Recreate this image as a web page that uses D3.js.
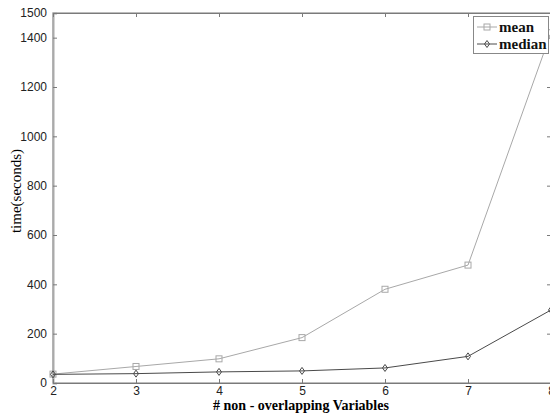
<!DOCTYPE html>
<html><head><meta charset="utf-8">
<script src="https://cdn.jsdelivr.net/npm/d3@7"></script>
<style>body{margin:0;background:#fff}svg{display:block}</style>
</head><body>
<script>
const xValues = [2, 3, 4, 5, 6, 7, 8];
const meanValues = [36, 67, 98, 184, 380, 478, 1420];
const medianValues = [35, 38, 45, 49, 61, 108, 296];
const yTicks = [0, 200, 400, 600, 800, 1000, 1200, 1400, 1500];
const seriesNames = ["mean", "median"];

(function () {
const W = 550, H = 415;
const m = {l: 53, r: -1, t: 13, b: 32};
const svg = d3.select("body").append("svg").attr("width", W).attr("height", H);
const x = d3.scaleLinear().domain([2, 8]).range([m.l, W - m.r]);
const y = d3.scaleLinear().domain([0, 1500]).range([H - m.b, m.t]);
const axisCol = "#7a7a7a";

const g = svg.append("g");
g.append("rect").attr("x", x(2)).attr("y", y(1500)).attr("width", x(8) - x(2)).attr("height", y(0) - y(1500))
  .attr("fill", "none").attr("stroke", axisCol).attr("stroke-width", 1);

const leftAx = g.append("g").attr("transform", `translate(${x(2)},0)`)
  .call(d3.axisLeft(y).tickValues(yTicks).tickSize(-4).tickPadding(6).tickFormat(d3.format("d")));
const rightAx = g.append("g").attr("transform", `translate(${x(8)},0)`)
  .call(d3.axisRight(y).tickValues(yTicks).tickSize(-4).tickFormat(""));
const bottomAx = g.append("g").attr("transform", `translate(0,${y(0)})`)
  .call(d3.axisBottom(x).tickValues(xValues).tickSize(-4).tickPadding(3).tickFormat(d3.format("d")));
const topAx = g.append("g").attr("transform", `translate(0,${y(1500)})`)
  .call(d3.axisTop(x).tickValues(xValues).tickSize(-4).tickFormat(""));
[leftAx, rightAx, bottomAx, topAx].forEach(a => {
  a.select(".domain").attr("stroke", axisCol);
  a.selectAll(".tick line").attr("stroke", axisCol);
  a.selectAll("text").attr("font-family", "Liberation Sans, Arial, sans-serif").attr("font-size", 12).attr("fill", "#222");
});
leftAx.select(".domain").attr("stroke", "#aaa").attr("stroke-width", 2);

const series = [
  {name: seriesNames[0], vals: meanValues, color: "#a8a8a8", marker: "square"},
  {name: seriesNames[1], vals: medianValues, color: "#4a4a4a", marker: "diamond"}
];
const line = d3.line().x((d, i) => x(xValues[i])).y(d => y(d));
function drawMarker(sel, type, cx, cy, color) {
  if (type === "square") {
    sel.append("rect").attr("x", cx - 3).attr("y", cy - 3).attr("width", 6).attr("height", 6)
      .attr("fill", "none").attr("stroke", color).attr("stroke-width", 1);
  } else {
    sel.append("path").attr("d", `M${cx},${cy - 3.5}L${cx + 2.5},${cy}L${cx},${cy + 3.5}L${cx - 2.5},${cy}Z`)
      .attr("fill", "none").attr("stroke", color).attr("stroke-width", 1);
  }
}
series.forEach(s => {
  g.append("path").attr("d", line(s.vals)).attr("fill", "none").attr("stroke", s.color).attr("stroke-width", 1);
  s.vals.forEach((v, i) => drawMarker(g, s.marker, x(xValues[i]), y(v), s.color));
});

const lg = svg.append("g");
lg.append("rect").attr("x", 473.5).attr("y", 16.5).attr("width", 75).attr("height", 37)
  .attr("fill", "#fff").attr("stroke", "#888");
series.forEach((s, i) => {
  const ly = 27 + i * 17;
  lg.append("line").attr("x1", 477).attr("x2", 497).attr("y1", ly).attr("y2", ly).attr("stroke", s.color);
  drawMarker(lg, s.marker, 487, ly, s.color);
  lg.append("text").attr("x", 499).attr("y", ly + 5).text(s.name)
    .attr("font-family", "Liberation Serif, Times New Roman, serif").attr("font-weight", "bold").attr("font-size", 15).attr("fill", "#111");
});

svg.append("text").attr("x", 301).attr("y", 410).attr("text-anchor", "middle")
  .attr("font-family", "Liberation Serif, Times New Roman, serif").attr("font-weight", "bold").attr("font-size", 14)
  .text("# non - overlapping Variables");
svg.append("text").attr("transform", "translate(21,191) rotate(-90)").attr("text-anchor", "middle")
  .attr("font-family", "Liberation Serif, Times New Roman, serif").attr("font-size", 15)
  .text("time(seconds)");
})();
</script>
</body></html>
